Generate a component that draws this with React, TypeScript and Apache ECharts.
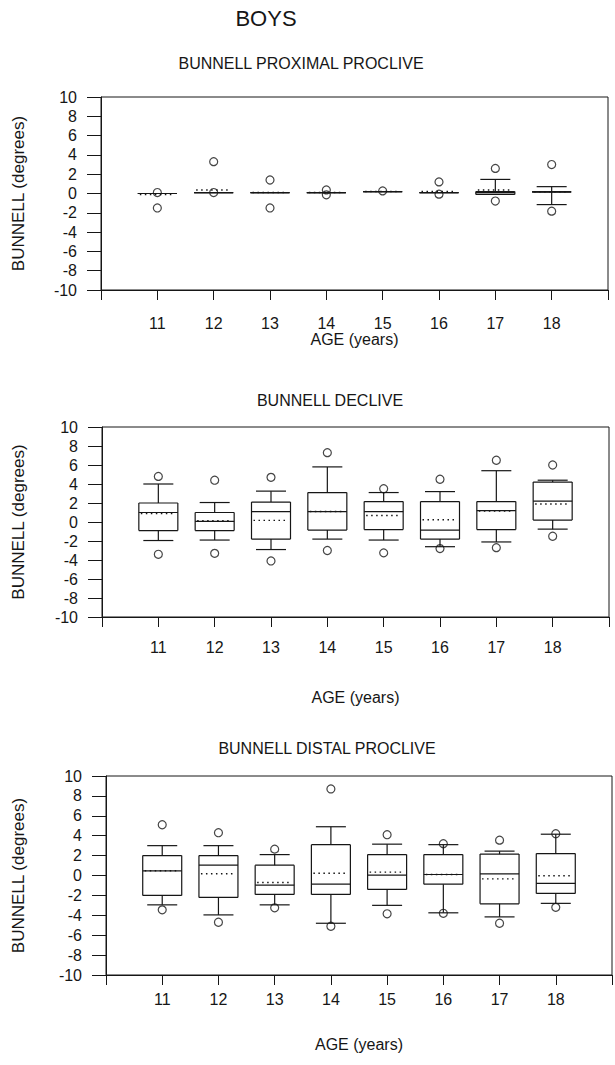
import React, { useEffect, useRef } from "react";
import * as echarts from "echarts";

const ages = [11, 12, 13, 14, 15, 16, 17, 18];
const xTickLabels = ["11", "12", "13", "14", "15", "16", "17", "18"];
const yTickValues = [-10, -8, -6, -4, -2, 0, 2, 4, 6, 8, 10];

const mainTitle = "BOYS";
const chartTitles = ["BUNNELL PROXIMAL PROCLIVE", "BUNNELL DECLIVE", "BUNNELL DISTAL PROCLIVE"];
const xName = "AGE (years)";
const yName = "BUNNELL (degrees)";

// Proximal proclive
const proxLow = [0, 0.1, 0.1, 0.1, 0.2, 0.1, -0.1, -1.15];
const proxQ1 = [0, 0.1, 0.1, 0.1, 0.2, 0.1, -0.1, 0.17];
const proxMed = [0, 0.1, 0.1, 0.1, 0.2, 0.1, 0.1, 0.17];
const proxQ3 = [0, 0.1, 0.1, 0.1, 0.2, 0.1, 0.2, 0.17];
const proxHigh = [0, 0.1, 0.1, 0.1, 0.2, 0.1, 1.46, 0.71];
const proxMean = [-0.1, 0.37, 0.1, 0.1, 0.2, 0.2, 0.37, 0.17];
const proxOut = [[0.1, -1.5], [3.3, 0.1], [1.4, -1.5], [0.37, -0.14], [0.27], [1.2, -0.07], [2.6, -0.78], [3.0, -1.83]];

// Declive
const decLow = [-1.95, -1.9, -2.9, -1.8, -1.9, -2.6, -2.1, -0.75];
const decQ1 = [-0.9, -0.9, -1.8, -0.85, -0.8, -1.8, -0.8, 0.2];
const decMed = [1.0, 0.07, 1.1, 1.1, 1.1, -0.85, 1.2, 2.2];
const decQ3 = [2.0, 1.0, 2.1, 3.1, 2.15, 2.15, 2.15, 4.2];
const decHigh = [4.0, 2.05, 3.25, 5.8, 3.1, 3.2, 5.4, 4.4];
const decMean = [0.9, 0.14, 0.17, 1.1, 0.68, 0.24, 1.15, 1.9];
const decOut = [[4.8, -3.4], [4.4, -3.3], [4.7, -4.1], [7.3, -3.0], [3.5, -3.25], [4.5, -2.8], [6.5, -2.7], [6.0, -1.5]];

// Distal proclive
const distLow = [-2.95, -3.96, -2.95, -4.8, -3.0, -3.75, -4.16, -2.8];
const distQ1 = [-2.0, -2.2, -1.9, -1.9, -1.4, -0.87, -2.85, -1.8];
const distMed = [0.47, 1.04, -0.97, -0.87, 0.03, 0.1, 0.17, -0.8];
const distQ3 = [2.0, 2.0, 1.04, 3.1, 2.1, 2.1, 2.15, 2.2];
const distHigh = [3.0, 3.0, 2.1, 4.9, 3.15, 3.1, 2.45, 4.15];
const distMean = [0.47, 0.17, -0.7, 0.23, 0.34, 0.1, -0.34, -0.03];
const distOut = [[5.1, -3.45], [4.3, -4.7], [2.65, -3.25], [8.7, -5.1], [4.1, -3.85], [3.2, -3.8], [3.55, -4.8], [4.2, -3.2]];

const panels = [
  { low: proxLow, q1: proxQ1, med: proxMed, q3: proxQ3, high: proxHigh, mean: proxMean, out: proxOut },
  { low: decLow, q1: decQ1, med: decMed, q3: decQ3, high: decHigh, mean: decMean, out: decOut },
  { low: distLow, q1: distQ1, med: distMed, q3: distQ3, high: distHigh, mean: distMean, out: distOut },
];

const FONT = "'Liberation Sans', Arial, Helvetica, sans-serif";
const INK = "#161616";

const layout = [
  { left: 101, top: 97, width: 507, height: 193, titleY: 63, titleX: 301, labelMargin: 25, nameGapX: 39, nameGapY: 74 },
  { left: 102, top: 427, width: 507, height: 190, titleY: 400, titleX: 330, labelMargin: 22, nameGapX: 72, nameGapY: 75 },
  { left: 106, top: 776, width: 512, height: 199, titleY: 748, titleX: 327, labelMargin: 16, nameGapX: 61, nameGapY: 79 },
];

function renderBox(params: any, api: any) {
  const x = api.value(0);
  const low = api.coord([x, api.value(1)]);
  const q1 = api.coord([x, api.value(2)]);
  const med = api.coord([x, api.value(3)]);
  const q3 = api.coord([x, api.value(4)]);
  const high = api.coord([x, api.value(5)]);
  const mean = api.coord([x, api.value(6)]);
  const cx = low[0];
  const bw = 39;
  const cw = 30;
  const st = { stroke: INK, lineWidth: 1.2, fill: "none" };
  const ln = (x1: number, y1: number, x2: number, y2: number, style: any = st) => ({
    type: "line",
    shape: { x1, y1, x2, y2 },
    style,
  });
  const children: any[] = [];
  children.push(ln(cx - bw / 2, q3[1], cx + bw / 2, q3[1]));
  children.push(ln(cx - bw / 2, q1[1], cx + bw / 2, q1[1]));
  if (Math.abs(q1[1] - q3[1]) > 1) {
    children.push(ln(cx - bw / 2, q3[1], cx - bw / 2, q1[1]));
    children.push(ln(cx + bw / 2, q3[1], cx + bw / 2, q1[1]));
  }
  if (Math.abs(high[1] - q3[1]) > 1) {
    children.push(ln(cx, high[1], cx, q3[1]));
    children.push(ln(cx - cw / 2, high[1], cx + cw / 2, high[1]));
  }
  if (Math.abs(low[1] - q1[1]) > 1) {
    children.push(ln(cx, q1[1], cx, low[1]));
    children.push(ln(cx - cw / 2, low[1], cx + cw / 2, low[1]));
  }
  children.push(ln(cx - bw / 2, med[1], cx + bw / 2, med[1]));
  children.push(
    ln(cx - bw / 2 + 2, mean[1], cx + bw / 2 - 2, mean[1], {
      stroke: INK,
      lineWidth: 1.4,
      lineDash: [1.5, 3.5],
      fill: "none",
    })
  );
  return { type: "group", children };
}

export default function App() {
  const ref = useRef<HTMLDivElement>(null);

  useEffect(() => {
    if (!ref.current) return;
    const chart = echarts.init(ref.current, undefined, { renderer: "svg" });

    const grids: any[] = [];
    const xAxes: any[] = [];
    const yAxes: any[] = [];
    const series: any[] = [];
    const graphics: any[] = [
      {
        type: "text",
        x: 266,
        y: 18,
        style: { text: mainTitle, font: `22px ${FONT}`, fill: INK, textAlign: "center", textVerticalAlign: "middle" },
      },
    ];

    panels.forEach((p, i) => {
      const L = layout[i];
      grids.push({
        left: L.left,
        top: L.top,
        width: L.width,
        height: L.height,
        show: true,
        borderColor: INK,
        borderWidth: 1,
        backgroundColor: "transparent",
      });
      xAxes.push({
        gridIndex: i,
        type: "value",
        min: 10,
        max: 19,
        interval: 1,
        axisLine: { show: true, onZero: false, lineStyle: { color: INK, width: 1 } },
        axisTick: { show: true, inside: false, length: 10, lineStyle: { color: INK, width: 1 } },
        axisLabel: {
          margin: L.labelMargin,
          fontSize: 16,
          fontFamily: FONT,
          color: INK,
          formatter: (v: number) => {
            const idx = ages.indexOf(v);
            return idx >= 0 ? xTickLabels[idx] : "";
          },
        },
        splitLine: { show: false },
        name: xName,
        nameLocation: "middle",
        nameGap: L.nameGapX,
        nameTextStyle: { fontSize: 16, fontFamily: FONT, color: INK },
      });
      yAxes.push({
        gridIndex: i,
        type: "value",
        min: yTickValues[0],
        max: yTickValues[yTickValues.length - 1],
        interval: 2,
        axisLine: { show: true, onZero: false, lineStyle: { color: INK, width: 1 } },
        axisTick: { show: true, inside: false, length: 14, lineStyle: { color: INK, width: 1 } },
        axisLabel: { margin: 24, fontSize: 16, fontFamily: FONT, color: INK },
        splitLine: { show: false },
        name: yName,
        nameLocation: "middle",
        nameGap: L.nameGapY,
        nameRotate: 90,
        nameTextStyle: { fontSize: 17, fontFamily: FONT, color: INK },
      });
      series.push({
        type: "custom",
        xAxisIndex: i,
        yAxisIndex: i,
        renderItem: renderBox,
        encode: { x: 0, y: [1, 2, 3, 4, 5, 6] },
        data: ages.map((a, k) => [a, p.low[k], p.q1[k], p.med[k], p.q3[k], p.high[k], p.mean[k]]),
        z: 2,
      });
      series.push({
        type: "scatter",
        xAxisIndex: i,
        yAxisIndex: i,
        symbol: "circle",
        symbolSize: 8,
        itemStyle: { color: "rgba(255,255,255,0)", borderColor: INK, borderWidth: 1.2 },
        data: ages.flatMap((a, k) => p.out[k].map((v) => [a, v])),
        z: 3,
      });
      graphics.push({
        type: "text",
        x: L.titleX,
        y: L.titleY,
        style: { text: chartTitles[i], font: `16px ${FONT}`, fill: INK, textAlign: "center", textVerticalAlign: "middle" },
      });
    });

    chart.setOption({
      animation: false,
      backgroundColor: "#ffffff",
      grid: grids,
      xAxis: xAxes,
      yAxis: yAxes,
      series,
      graphic: graphics,
    });

    return () => chart.dispose();
  }, []);

  return (
    <div
      ref={ref}
      style={{ position: "absolute", left: 0, top: 0, width: 615, height: 1065, background: "#fff" }}
    />
  );
}
